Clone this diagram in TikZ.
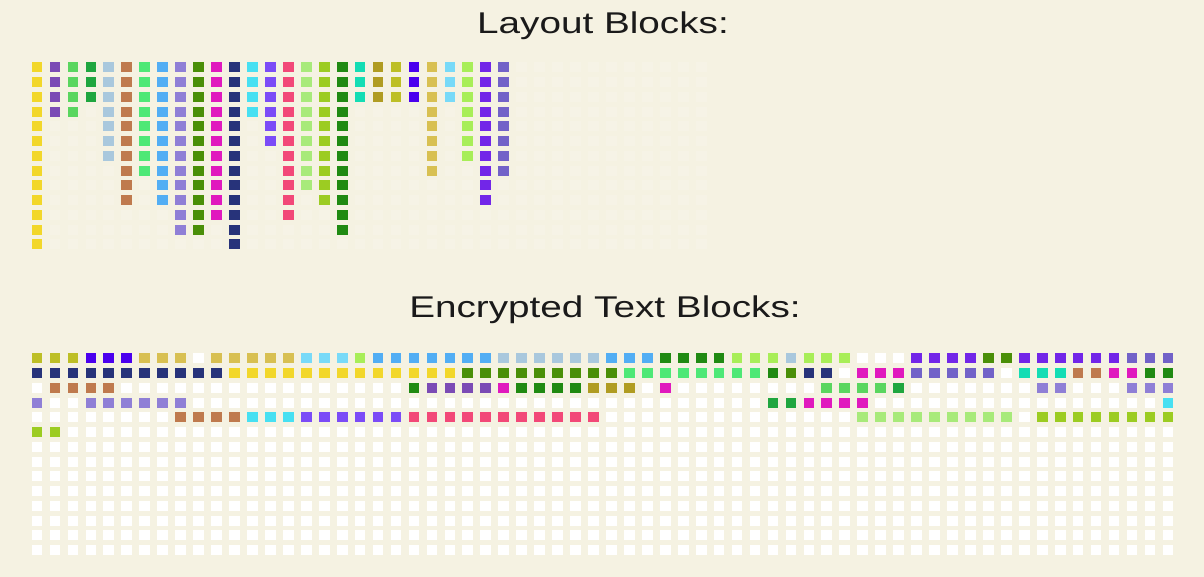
\documentclass[tikz,border=0pt]{standalone}
\usepackage{graphicx}
\usepackage{fontspec}
\setmainfont{Liberation Sans}
\definecolor{bgc}{HTML}{F5F2E2}
\definecolor{txt}{HTML}{1A1A1A}
\definecolor{Y}{HTML}{F2D72A}
\definecolor{P1}{HTML}{7B4BB5}
\definecolor{G2}{HTML}{5AD65F}
\definecolor{DG}{HTML}{1FA63F}
\definecolor{LSB}{HTML}{A9C8DD}
\definecolor{BR}{HTML}{BF7A4E}
\definecolor{BG}{HTML}{4EE876}
\definecolor{SK}{HTML}{52AEF4}
\definecolor{LV}{HTML}{8F7FD6}
\definecolor{OL}{HTML}{4A8F08}
\definecolor{MG}{HTML}{E019BE}
\definecolor{NV}{HTML}{27337A}
\definecolor{CY}{HTML}{47E0F2}
\definecolor{VI}{HTML}{7B4BF7}
\definecolor{PK}{HTML}{F24878}
\definecolor{LG}{HTML}{A8EA7A}
\definecolor{YG}{HTML}{9CCC22}
\definecolor{GR}{HTML}{208A12}
\definecolor{TQ}{HTML}{14DDB4}
\definecolor{GD}{HTML}{B09C22}
\definecolor{OY}{HTML}{BDBF26}
\definecolor{BV}{HTML}{4A00EE}
\definecolor{KH}{HTML}{D8C052}
\definecolor{LC}{HTML}{78DAF8}
\definecolor{LM}{HTML}{A8EE58}
\definecolor{PU}{HTML}{7226E8}
\definecolor{SL}{HTML}{7262C8}
\newcommand\tcell[3]{\fill[#3] ({37+17.95*(#1)-5.35},{67.3+14.75*(#2)-5}) rectangle ++(10.7,10);}
\newcommand\bcell[3]{\fill[#3] ({37+17.95*(#1)-5.35},{358.3+14.75*(#2)-5}) rectangle ++(10.7,10);}
\newcommand\tcolumn[3]{\foreach \rr in {0,...,#2}{\tcell{#1}{\rr}{#3}}}
\newcommand\brun[4]{\foreach \cc in {#2,...,#3}{\bcell{\cc}{#1}{#4}}}
\tikzset{title/.style={font=\fontsize{30}{36}\selectfont, text=txt, anchor=base, inner sep=0pt}}
\begin{document}
\begin{tikzpicture}[x=1pt,y=-1pt]
\fill[bgc] (0,0) rectangle (1204,577);
\useasboundingbox (0,0) rectangle (1204,577);
\node[title] (t1) at (603,33.3) {\scalebox{1.29}[1]{Layout Blocks:}};
\node[title] (t2) at (605,317.3) {\scalebox{1.29}[1]{Encrypted Text Blocks:}};
% faint empty layout cells
\foreach \c in {0,...,37}{\foreach \r in {0,...,12}{\tcell{\c}{\r}{white,fill opacity=0.15}}}
% layout columns
\tcolumn{0}{12}{Y}
\tcolumn{1}{3}{P1}
\tcolumn{2}{3}{G2}
\tcolumn{3}{2}{DG}
\tcolumn{4}{6}{LSB}
\tcolumn{5}{9}{BR}
\tcolumn{6}{7}{BG}
\tcolumn{7}{9}{SK}
\tcolumn{8}{11}{LV}
\tcolumn{9}{11}{OL}
\tcolumn{10}{10}{MG}
\tcolumn{11}{12}{NV}
\tcolumn{12}{3}{CY}
\tcolumn{13}{5}{VI}
\tcolumn{14}{10}{PK}
\tcolumn{15}{8}{LG}
\tcolumn{16}{9}{YG}
\tcolumn{17}{11}{GR}
\tcolumn{18}{2}{TQ}
\tcolumn{19}{2}{GD}
\tcolumn{20}{2}{OY}
\tcolumn{21}{2}{BV}
\tcolumn{22}{7}{KH}
\tcolumn{23}{2}{LC}
\tcolumn{24}{6}{LM}
\tcolumn{25}{9}{PU}
\tcolumn{26}{7}{SL}
% encrypted grid background cells
\foreach \c in {0,...,63}{\foreach \r in {0,...,13}{\bcell{\c}{\r}{white}}}
% row 0
\brun{0}{0}{2}{OY}\brun{0}{3}{5}{BV}\brun{0}{6}{8}{KH}\brun{0}{10}{14}{KH}
\brun{0}{15}{17}{LC}\brun{0}{18}{18}{LM}\brun{0}{19}{25}{SK}\brun{0}{26}{31}{LSB}
\brun{0}{32}{34}{SK}\brun{0}{35}{38}{GR}\brun{0}{39}{41}{LM}\brun{0}{42}{42}{LSB}
\brun{0}{43}{45}{LM}\brun{0}{49}{52}{PU}\brun{0}{53}{54}{OL}\brun{0}{55}{60}{PU}
\brun{0}{61}{63}{SL}
% row 1
\brun{1}{0}{10}{NV}\brun{1}{11}{23}{Y}\brun{1}{24}{32}{OL}\brun{1}{33}{40}{BG}
\brun{1}{41}{41}{GR}\brun{1}{42}{42}{OL}\brun{1}{43}{44}{NV}\brun{1}{46}{48}{MG}
\brun{1}{49}{53}{SL}\brun{1}{55}{57}{TQ}\brun{1}{58}{59}{BR}\brun{1}{60}{61}{MG}
\brun{1}{62}{63}{GR}
% row 2
\brun{2}{1}{4}{BR}\brun{2}{21}{21}{GR}\brun{2}{22}{25}{P1}\brun{2}{26}{26}{MG}
\brun{2}{27}{30}{GR}\brun{2}{31}{33}{GD}\brun{2}{35}{35}{MG}\brun{2}{44}{47}{G2}
\brun{2}{48}{48}{DG}\brun{2}{56}{57}{LV}\brun{2}{61}{63}{LV}
% row 3
\brun{3}{0}{0}{LV}\brun{3}{3}{8}{LV}\brun{3}{41}{42}{DG}\brun{3}{43}{46}{MG}
\brun{3}{63}{63}{CY}
% row 4
\brun{4}{8}{11}{BR}\brun{4}{12}{14}{CY}\brun{4}{15}{20}{VI}\brun{4}{21}{31}{PK}
\brun{4}{46}{54}{LG}\brun{4}{56}{63}{YG}
% row 5
\brun{5}{0}{1}{YG}
\end{tikzpicture}
\end{document}
